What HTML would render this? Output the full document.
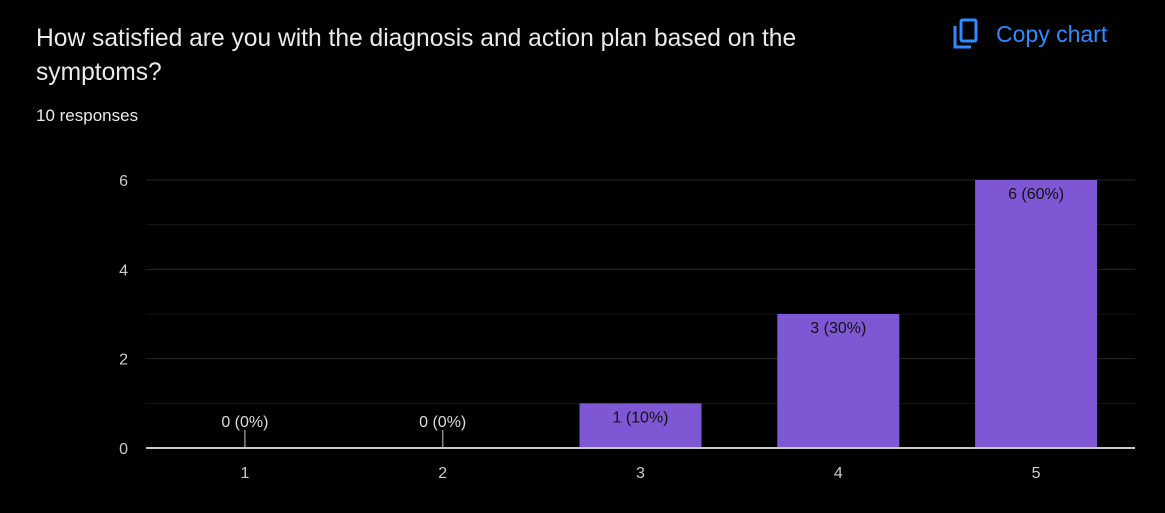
<!DOCTYPE html>
<html><head><meta charset="utf-8"><style>
body{margin:0;background:#000;width:1165px;height:513px;overflow:hidden;font-family:"Liberation Sans",Arial,sans-serif;}
#title{position:absolute;left:36px;top:22px;width:820px;font-size:24.6px;line-height:34px;color:#e8eaed;}
#resp{position:absolute;left:36px;top:106px;font-size:17px;color:#e8eaed;}
#copy{position:absolute;left:952px;top:18px;color:#2d8cff;font-size:23px;display:flex;align-items:center;gap:16px;cursor:pointer;}
svg{position:absolute;left:0;top:0;}
</style></head><body>
<div id="title">How satisfied are you with the diagnosis and action plan based on the symptoms?</div>
<div id="resp">10 responses</div>
<div id="copy">
<svg style="position:static" width="28" height="32" viewBox="0 0 28 32"><rect x="9" y="2" width="15" height="21" rx="1.5" fill="none" stroke="#2d8cff" stroke-width="3"/><path d="M3 8 V29 H19" fill="none" stroke="#2d8cff" stroke-width="3"/></svg>
<span>Copy chart</span></div>
<svg id="chart" width="1165" height="513"></svg>
<script>
const categories=["1","2","3","4","5"];
const counts=[0,0,1,3,6];
const labels=["0 (0%)","0 (0%)","1 (10%)","3 (30%)","6 (60%)"];
const yTicks=[0,2,4,6];
const NS="http://www.w3.org/2000/svg";
const svg=document.getElementById('chart');
const x0=146,x1=1135,yB=448,yT=180,yMax=6;
const y=v=>yB-(v/yMax)*(yB-yT);
const band=(x1-x0)/categories.length;
const xc=i=>x0+band*(i+0.5);
function mk(t,a,txt){const e=document.createElementNS(NS,t);for(const k in a)e.setAttribute(k,a[k]);if(txt!==undefined)e.textContent=txt;svg.appendChild(e);return e;}
for(let v=1;v<=yMax;v++){
 const g=mk('line',{x1:x0,x2:x1,y1:y(v),y2:y(v),stroke:v%2?'#141414':'#262626','stroke-width':1});
 
 
}
yTicks.forEach(v=>{
 const t=mk('text',{x:128,y:y(v)+6,'text-anchor':'end','font-size':16,fill:'#ccc'},v);
 
 
});
categories.forEach((c,i)=>{
 const cx=xc(i);
 if(counts[i]>0){
  const r=mk('rect',{x:cx-61,y:y(counts[i]),width:122,height:yB-y(counts[i]),fill:'#7e57d4'});
  
  
  const t=mk('text',{x:cx,y:y(counts[i])+19,'text-anchor':'middle','font-size':16,fill:'#111'},labels[i]);
  
  
 }else{
  const l=mk('line',{x1:cx,x2:cx,y1:yB-18,y2:yB,stroke:'#888','stroke-width':1.5});
  
  
  const t=mk('text',{x:cx,y:yB-21,'text-anchor':'middle','font-size':16,fill:'#ddd',stroke:'#000','stroke-width':3,'paint-order':'stroke'},labels[i]);
  
  
 }
 const xt=mk('text',{x:cx,y:478,'text-anchor':'middle','font-size':16,fill:'#ccc'},c);
 
 
});
const ax=mk('line',{x1:x0,x2:x1,y1:yB,y2:yB,stroke:'#c8c8c8','stroke-width':2});


</script>
</body></html>
